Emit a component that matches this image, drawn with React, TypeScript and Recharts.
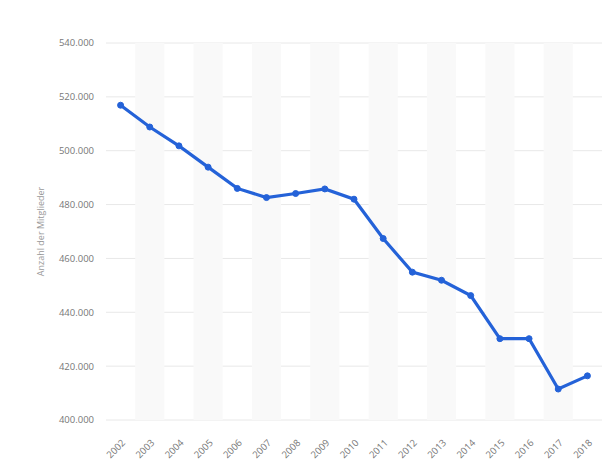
import React from "react";
import { LineChart, Line, XAxis, YAxis, CartesianGrid, ReferenceArea } from "recharts";

const years = ["2002","2003","2004","2005","2006","2007","2008","2009","2010","2011","2012","2013","2014","2015","2016","2017","2018"];
const members = [516900, 508800, 501800, 493900, 486000, 482600, 484100, 485800, 482000, 467400, 454900, 451900, 446200, 430200, 430200, 411500, 416400];
const yTicks = [400000, 420000, 440000, 460000, 480000, 500000, 520000, 540000];
const shadedYears = ["2003","2005","2007","2009","2011","2013","2015","2017"];

const data = years.map((y, i) => ({ year: y, value: members[i] }));

const fmt = (v: number) => String(v).replace(/\B(?=(\d{3})+(?!\d))/g, ".");

const FONT = "'Open Sans', 'DejaVu Sans', sans-serif";

const XTick = (props: any) => {
  const { x, y, payload } = props;
  return (
    <g transform={`translate(${x + 3},${y + 13})`}>
      <text x={0} y={0} dy="0.35em" textAnchor="end" transform="rotate(-45)" fill="#777" fontSize={9.5} fontFamily={FONT}>
        {payload.value}
      </text>
    </g>
  );
};

export default function App() {
  return (
    <div style={{ position: "absolute", left: 0, top: 0, background: "#fff" }}>
      <LineChart width={602} height={469} data={data} margin={{ top: 43, right: 0, bottom: 0, left: 0 }}>
        {shadedYears.map((y) => (
          <ReferenceArea key={y} x1={y} x2={y} fill="#f9f9f9" fillOpacity={1} stroke="none" ifOverflow="hidden" />
        ))}
        <CartesianGrid vertical={false} stroke="#e8e8e8" />
        <XAxis
          dataKey="year"
          scale="band"
          axisLine={false}
          tickLine={false}
          interval={0}
          height={49}
          tick={<XTick />}
        />
        <YAxis
          domain={[400000, 540000]}
          ticks={yTicks}
          tickFormatter={fmt}
          axisLine={false}
          tickLine={false}
          tickSize={0}
          tickMargin={12}
          width={106}
          tick={{ fill: "#777", fontSize: 9.5, fontFamily: FONT }}
          label={{ value: "Anzahl der Mitglieder", angle: -90, position: "insideLeft", dx: 36, fill: "#999", fontSize: 9, fontFamily: FONT, style: { textAnchor: "middle" } }}
        />
        <Line
          type="linear"
          dataKey="value"
          stroke="#2462d8"
          strokeWidth={3.2}
          dot={{ r: 3, fill: "#2462d8", stroke: "#2462d8", strokeWidth: 1 }}
          isAnimationActive={false}
        />
      </LineChart>
    </div>
  );
}
